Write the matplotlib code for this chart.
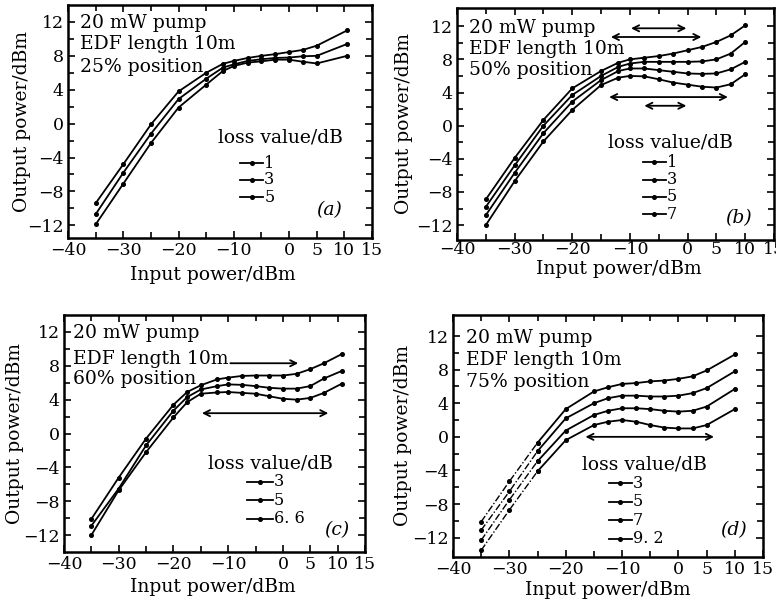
import matplotlib
matplotlib.use('Agg')
import matplotlib.pyplot as plt
from matplotlib.ticker import FixedLocator

plt.rcParams['font.family'] = ['DejaVu Serif']
plt.rcParams['axes.unicode_minus'] = True

# ---------------- data ----------------
x_ticks = [-40, -30, -20, -10, 0, 5, 10, 15]
x_ticklabels = ['\u221240', '\u221230', '\u221220', '\u221210', '0', '5', '10', '15']
y_ticks = [-12, -8, -4, 0, 4, 8, 12]
y_ticklabels = ['\u221212', '\u22128', '\u22124', '0', '4', '8', '12']

# (a) 25% position
xa = [-35, -30, -25, -20, -15, -12, -10, -7.5, -5, -2.5, 0, 2.5, 5, 10.5]
a_loss1 = [-9.4, -4.8, -0.1, 3.8, 6.0, 7.05, 7.4, 7.75, 8.0, 8.2, 8.45, 8.7, 9.2, 11.0]
a_loss3 = [-10.7, -5.8, -1.2, 2.9, 5.3, 6.6, 7.0, 7.4, 7.6, 7.75, 7.8, 7.95, 8.0, 9.4]
a_loss5 = [-11.9, -7.1, -2.3, 1.9, 4.6, 6.2, 6.8, 7.2, 7.35, 7.55, 7.55, 7.3, 7.1, 8.0]
a_labels = ['1', '3', '5']

# (b) 50% position
xb = [-35, -30, -25, -20, -15, -12, -10, -7.5, -5, -2.5, 0, 2.5, 5, 7.5, 10]
b_loss1 = [-8.9, -3.9, 0.7, 4.5, 6.6, 7.6, 8.0, 8.2, 8.4, 8.7, 9.1, 9.5, 10.1, 10.9, 12.1]
b_loss3 = [-9.8, -4.8, 0.0, 3.7, 6.0, 7.1, 7.5, 7.7, 7.7, 7.7, 7.7, 7.75, 8.0, 8.7, 10.1]
b_loss5 = [-10.8, -5.7, -0.9, 2.9, 5.5, 6.6, 6.9, 6.9, 6.7, 6.5, 6.3, 6.25, 6.3, 6.8, 7.7]
b_loss7 = [-12.0, -6.7, -1.9, 1.9, 4.9, 5.8, 6.0, 5.95, 5.6, 5.2, 4.95, 4.7, 4.6, 5.0, 6.2]
b_labels = ['1', '3', '5', '7']

# (c) 60% position
xc = [-35, -30, -25, -20, -17.5, -15, -12, -10, -7.5, -5, -2.5, 0, 2.5, 5, 7.5, 10.8]
c_loss3 = [-10.1, -5.2, -0.6, 3.4, 4.9, 5.7, 6.4, 6.6, 6.8, 6.85, 6.85, 6.85, 7.05, 7.6, 8.3, 9.4]
c_loss5 = [-10.9, -6.5, -1.4, 2.7, 4.3, 5.2, 5.6, 5.8, 5.75, 5.6, 5.4, 5.3, 5.3, 5.6, 6.5, 7.4]
c_loss66 = [-12.0, -6.7, -2.2, 1.9, 3.7, 4.7, 4.85, 4.9, 4.8, 4.7, 4.4, 4.1, 4.0, 4.2, 4.8, 5.9]
c_labels = ['3', '5', '6. 6']

# (d) 75% position
xd = [-35, -30, -25, -20, -15, -12.5, -10, -7.5, -5, -2.5, 0, 2.5, 5, 10]
d_loss3 = [-10.1, -5.3, -0.7, 3.3, 5.4, 5.9, 6.3, 6.4, 6.6, 6.7, 6.9, 7.2, 7.9, 9.8]
d_loss5 = [-11.1, -6.5, -1.7, 2.2, 4.0, 4.6, 4.9, 4.9, 4.8, 4.8, 4.9, 5.2, 5.8, 7.8]
d_loss7 = [-12.3, -7.5, -2.9, 0.75, 2.6, 3.1, 3.4, 3.4, 3.3, 3.1, 3.0, 3.1, 3.6, 5.7]
d_loss92 = [-13.5, -8.7, -4.1, -0.4, 1.4, 1.8, 2.0, 1.8, 1.4, 1.1, 1.0, 1.0, 1.4, 3.3]
d_labels = ['3', '5', '7', '9. 2']

FS = 13.5
TFS = 12.5
LFS = 11.5

fig = plt.figure(figsize=(7.76, 6.05), dpi=100)
W, H = 776, 605


def add_ax(l, r, t, b):
    return fig.add_axes([l / W, 1 - b / H, (r - l) / W, (b - t) / H])


def style_ax(ax, ylim, xlab_y, xlab_x, ylab_x, xpad=3):
    ax.set_xlim(-40, 15)
    ax.set_ylim(*ylim)
    ax.set_xticks(x_ticks)
    ax.set_xticklabels(x_ticklabels, fontsize=TFS)
    ax.set_yticks(y_ticks)
    ax.set_yticklabels(y_ticklabels, fontsize=TFS)
    ax.xaxis.set_minor_locator(FixedLocator([-35, -25, -15, -5]))
    ax.yaxis.set_minor_locator(FixedLocator([-10, -6, -2, 2, 6, 10]))
    ax.tick_params(which='both', direction='in', top=True, right=True, width=1.2)
    ax.tick_params(which='major', length=5, pad=3)
    ax.tick_params(axis='x', which='major', pad=xpad)
    ax.tick_params(which='minor', length=4)
    for s in ax.spines.values():
        s.set_linewidth(1.8)
    ax.set_xlabel('Input power/dBm', fontsize=FS)
    ax.set_ylabel('Output power/dBm', fontsize=FS)
    ax.yaxis.set_label_coords(ylab_x, 0.5)
    ax.xaxis.set_label_coords(xlab_x, xlab_y)


def curves(ax, x, ys, dashed_first=0):
    for y in ys:
        if dashed_first:
            ax.plot(x[:dashed_first + 1], y[:dashed_first + 1], color='k', lw=1.0,
                    ls=(0, (5, 1.5, 1, 1.5)), marker='o', ms=2.6)
            ax.plot(x[dashed_first:], y[dashed_first:], color='k', lw=1.3,
                    marker='o', ms=2.6)
        else:
            ax.plot(x, y, color='k', lw=1.3, marker='o', ms=2.6)


def header(ax, x0, ys, pos):
    ax.text(x0, ys[0], '20 mW pump', fontsize=FS, va='center', ha='left')
    ax.text(x0, ys[1], 'EDF length 10m', fontsize=FS, va='center', ha='left')
    ax.text(x0, ys[2], pos + ' position', fontsize=FS, va='center', ha='left')


def legend(ax, tx, ty, lx0, lx1, ys, labels):
    ax.text(tx, ty, 'loss value/dB', fontsize=FS, va='center', ha='left')
    for y, lab in zip(ys, labels):
        ax.plot([lx0, lx1], [y, y], color='k', lw=1.3)
        ax.plot([(lx0 + lx1) / 2], [y], color='k', marker='o', ms=2.6)
        ax.text(lx1 + 0.2, y, lab, fontsize=LFS, va='center', ha='left')


def arrow(ax, x0, x1, y, style='<->'):
    ax.annotate('', xy=(x1, y), xytext=(x0, y),
                arrowprops=dict(arrowstyle=style, color='k', lw=1.3,
                                shrinkA=0, shrinkB=0, mutation_scale=11))


# ----- (a) -----
ax = add_ax(68, 372, 5, 238)
style_ax(ax, (-13.5, 14), -0.12, 0.477, -0.122)
curves(ax, xa, [a_loss1, a_loss3, a_loss5])
header(ax, -37.8, [11.9, 9.4, 6.7], '25%')
legend(ax, -12.9, -1.6, -8.9, -4.7, [-4.7, -6.6, -8.7], a_labels)
ax.text(7.2, -10.2, '(a)', fontsize=FS, style='italic', va='center', ha='center')

# ----- (b) -----
ax = add_ax(457, 774, 8, 240)
style_ax(ax, (-13.8, 14.2), -0.088, 0.51, -0.139, xpad=1)
curves(ax, xb, [b_loss1, b_loss3, b_loss5, b_loss7])
header(ax, -38.0, [11.8, 9.2, 6.7], '50%')
legend(ax, -13.8, -2.0, -7.7, -3.8, [-4.4, -6.5, -8.6, -10.7], b_labels)
ax.text(8.8, -11.1, '(b)', fontsize=FS, style='italic', va='center', ha='center')
arrow(ax, -9.8, -0.2, 11.75)
arrow(ax, -13.3, 2.4, 10.7)
arrow(ax, -13.6, 7.0, 3.45)
arrow(ax, -7.5, -0.2, 2.4)

# ----- (c) -----
ax = add_ax(64, 365, 315, 552)
style_ax(ax, (-14, 14), -0.11, 0.495, -0.133)
curves(ax, xc, [c_loss3, c_loss5, c_loss66])
header(ax, -38.3, [11.9, 8.8, 6.4], '60%')
legend(ax, -13.7, -3.5, -6.5, -1.9, [-5.7, -7.9, -10.1], c_labels)
ax.text(9.9, -11.4, '(c)', fontsize=FS, style='italic', va='center', ha='center')
arrow(ax, -9.6, 2.8, 8.3, style='->')
arrow(ax, -14.8, 8.3, 2.4)

# ----- (d) -----
ax = add_ax(453, 763, 315, 557)
style_ax(ax, (-14.3, 14.5), -0.099, 0.5, -0.132)
curves(ax, xd, [d_loss3, d_loss5, d_loss7, d_loss92], dashed_first=2)
header(ax, -37.7, [11.8, 9.1, 6.5], '75%')
legend(ax, -17.2, -3.3, -12.4, -8.3, [-5.5, -7.7, -9.9, -12.1], d_labels)
ax.text(9.8, -11.1, '(d)', fontsize=FS, style='italic', va='center', ha='center')
arrow(ax, -16.5, 6.3, 0.0)

fig.savefig('out.png', dpi=100)
